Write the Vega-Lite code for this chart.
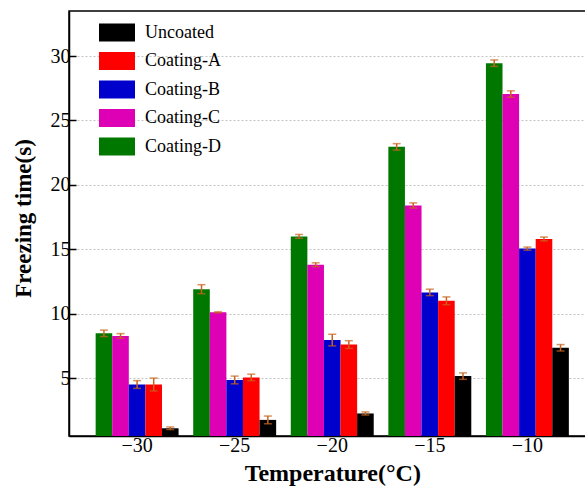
{
  "$schema": "https://vega.github.io/schema/vega-lite/v6.json",
  "width": 526.5,
  "height": 425,
  "autosize": {"type": "none"},
  "padding": {"left": 69, "top": 11, "right": 0, "bottom": 51},
  "background": "white",
  "config": {
    "view": {"stroke": "black", "strokeWidth": 1.5},
    "font": "Liberation Serif",
    "axis": {
      "labelFont": "Liberation Serif",
      "titleFont": "Liberation Serif",
      "labelColor": "black",
      "titleColor": "black",
      "domainColor": "black",
      "domainWidth": 1.5,
      "tickColor": "black",
      "tickWidth": 1.5
    },
    "legend": {
      "labelFont": "Liberation Serif"
    }
  },
  "data": {
    "values": [
      {"temp": "−30", "coating": "Coating-D", "value": 8.47, "lo": 8.22, "hi": 8.72},
      {"temp": "−30", "coating": "Coating-C", "value": 8.27, "lo": 8.09, "hi": 8.45},
      {"temp": "−30", "coating": "Coating-B", "value": 4.5, "lo": 4.2, "hi": 4.8},
      {"temp": "−30", "coating": "Coating-A", "value": 4.5, "lo": 4.0, "hi": 5.0},
      {"temp": "−30", "coating": "Uncoated", "value": 1.1, "lo": 1.0, "hi": 1.2},
      {"temp": "−25", "coating": "Coating-D", "value": 11.9, "lo": 11.55, "hi": 12.25},
      {"temp": "−25", "coating": "Coating-C", "value": 10.1, "lo": 10.06, "hi": 10.14},
      {"temp": "−25", "coating": "Coating-B", "value": 4.85, "lo": 4.55, "hi": 5.15},
      {"temp": "−25", "coating": "Coating-A", "value": 5.05, "lo": 4.8, "hi": 5.3},
      {"temp": "−25", "coating": "Uncoated", "value": 1.75, "lo": 1.45, "hi": 2.05},
      {"temp": "−20", "coating": "Coating-D", "value": 16.0, "lo": 15.85, "hi": 16.15},
      {"temp": "−20", "coating": "Coating-C", "value": 13.8, "lo": 13.65, "hi": 13.95},
      {"temp": "−20", "coating": "Coating-B", "value": 7.95, "lo": 7.5, "hi": 8.4},
      {"temp": "−20", "coating": "Coating-A", "value": 7.6, "lo": 7.3, "hi": 7.9},
      {"temp": "−20", "coating": "Uncoated", "value": 2.25, "lo": 2.13, "hi": 2.37},
      {"temp": "−15", "coating": "Coating-D", "value": 22.95, "lo": 22.7, "hi": 23.2},
      {"temp": "−15", "coating": "Coating-C", "value": 18.4, "lo": 18.2, "hi": 18.6},
      {"temp": "−15", "coating": "Coating-B", "value": 11.65, "lo": 11.4, "hi": 11.9},
      {"temp": "−15", "coating": "Coating-A", "value": 11.0, "lo": 10.7, "hi": 11.3},
      {"temp": "−15", "coating": "Uncoated", "value": 5.15, "lo": 4.9, "hi": 5.4},
      {"temp": "−10", "coating": "Coating-D", "value": 29.45, "lo": 29.2, "hi": 29.7},
      {"temp": "−10", "coating": "Coating-C", "value": 27.05, "lo": 26.8, "hi": 27.3},
      {"temp": "−10", "coating": "Coating-B", "value": 15.05, "lo": 14.93, "hi": 15.17},
      {"temp": "−10", "coating": "Coating-A", "value": 15.8, "lo": 15.65, "hi": 15.95},
      {"temp": "−10", "coating": "Uncoated", "value": 7.35, "lo": 7.1, "hi": 7.6}
    ]
  },
  "encoding": {
    "x": {
      "field": "temp",
      "type": "nominal",
      "sort": ["−30", "−25", "−20", "−15", "−10"],
      "scale": {"paddingInner": 0.15, "paddingOuter": 0.273},
      "axis": {
        "title": "Temperature(°C)",
        "titleFontSize": 24,
        "titleFontWeight": "bold",
        "titlePadding": 6,
        "labelFontSize": 20,
        "labelAngle": 0,
        "labelPadding": 6,
        "tickSize": -7,
        "grid": false
      }
    },
    "xOffset": {
      "field": "coating",
      "type": "nominal",
      "sort": ["Coating-D", "Coating-C", "Coating-B", "Coating-A", "Uncoated"],
      "scale": {"paddingInner": 0, "paddingOuter": 0}
    }
  },
  "layer": [
    {
      "mark": {"type": "bar", "clip": true},
      "encoding": {
        "y": {
          "field": "value",
          "type": "quantitative",
          "title": "Freezing time(s)",
          "scale": {"domain": [0.5, 33.5], "nice": false, "zero": false},
          "axis": {
            "values": [5, 10, 15, 20, 25, 30],
            "titleFontSize": 23,
            "titleFontWeight": "bold",
            "titlePadding": 15,
            "titleY": 207,
            "labelFontSize": 20,
            "labelPadding": 6,
            "tickSize": -7,
            "grid": true,
            "gridDash": [2, 2],
            "gridColor": "#c4c4c4",
            "gridWidth": 1
          }
        },
        "color": {
          "field": "coating",
          "type": "nominal",
          "scale": {
            "domain": ["Uncoated", "Coating-A", "Coating-B", "Coating-C", "Coating-D"],
            "range": ["#000000", "#ff0000", "#0000cc", "#dd00b4", "#007800"]
          },
          "legend": {
            "title": null,
            "orient": "none",
            "legendX": 36,
            "legendY": 9.5,
            "padding": 0,
            "symbolType": "M-1.5,-0.75H1.5V0.75H-1.5Z",
            "symbolSize": 576,
            "symbolStrokeWidth": 0,
            "symbolOpacity": 1,
            "labelFontSize": 18,
            "labelColor": "black",
            "labelOffset": 16,
            "rowPadding": 7.5
          }
        }
      }
    },
    {
      "mark": {"type": "rule", "color": "#c8641e", "strokeWidth": 1.5},
      "encoding": {
        "y": {"field": "lo", "type": "quantitative", "title": "Freezing time(s)"},
        "y2": {"field": "hi"}
      }
    },
    {
      "mark": {"type": "tick", "color": "#c8641e", "size": 8, "thickness": 1.5},
      "encoding": {
        "y": {"field": "lo", "type": "quantitative", "title": "Freezing time(s)"}
      }
    },
    {
      "mark": {"type": "tick", "color": "#c8641e", "size": 8, "thickness": 1.5},
      "encoding": {
        "y": {"field": "hi", "type": "quantitative", "title": "Freezing time(s)"}
      }
    }
  ]
}
